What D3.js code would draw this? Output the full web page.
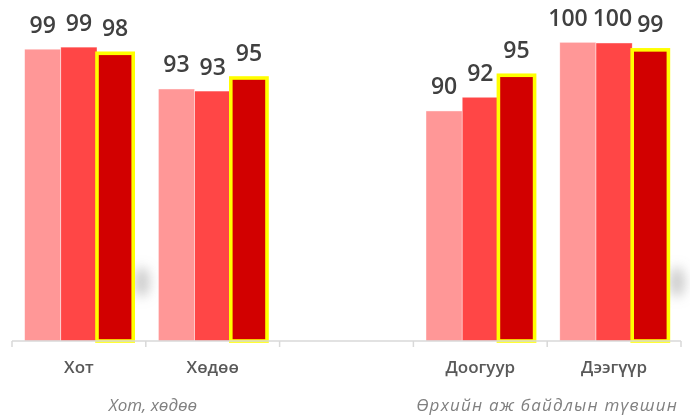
<!DOCTYPE html>
<html>
<head>
<meta charset="utf-8">
<script src="https://cdn.jsdelivr.net/npm/d3@7/dist/d3.min.js"></script>
<style>
  html, body { margin: 0; padding: 0; background: #fff; }
  svg { display: block; }
</style>
</head>
<body>
<svg id="chart" width="690" height="416"></svg>
<script>
// ---- Data ----
const categories = ["Хот", "Хөдөө", "", "Доогуур", "Дээгүүр"];
const seriesNames = ["s1", "s2", "s3"];
const series1 = [99.0, 93.2, null, 90.0, 100.0];
const series2 = [99.3, 92.9, null, 92.0, 99.9];
const series3 = [98.4, 94.8, null, 95.2, 98.9];
const groupTitles = ["Хот, хөдөө", "Өрхийн аж байдлын түвшин"];

const colors = ["#ff9797", "#ff4646", "#d20000"];
const allSeries = [series1, series2, series3];
const FONT = "'Open Sans', 'DejaVu Sans', sans-serif";

const svg = d3.select("#chart");
const W = 690, H = 416;
svg.append("rect").attr("width", W).attr("height", H).attr("fill", "#fff");

const x0 = d3.scaleBand().domain(categories).range([12, 681]).paddingInner(0).paddingOuter(0);
const groupW = 108.6;
const x1 = d3.scaleBand().domain(seriesNames).range([0, groupW]).padding(0);
const y = d3.scaleLinear().domain([56.5, 100]).range([341, 42.3]);

// soft shadows
const defs = svg.append("defs");
const f = defs.append("filter").attr("id", "blur").attr("x", "-100%").attr("y", "-100%").attr("width", "300%").attr("height", "300%");
f.append("feGaussianBlur").attr("stdDeviation", 6);
const shadowG = svg.append("g").attr("filter", "url(#blur)");
[[x0("Хөдөө") - 4, 282], [x0("Дээгүүр") + x0.bandwidth() - 4, 282]].forEach(p => {
  shadowG.append("ellipse").attr("cx", p[0]).attr("cy", p[1]).attr("rx", 8).attr("ry", 15)
    .attr("fill", "#9a9a9a").attr("opacity", 0.5);
});

// bars
const off = (x0.bandwidth() - groupW) / 2;
const barsG = svg.append("g");
categories.forEach((c, ci) => {
  allSeries.forEach((s, si) => {
    const v = s[ci];
    if (v == null) return;
    const bx = x0(c) + off + x1(seriesNames[si]);
    const r = barsG.append("rect")
      .attr("x", bx).attr("y", y(v))
      .attr("width", x1.bandwidth()).attr("height", y(56.5) - y(v))
      .attr("fill", colors[si]);
    if (si === 2) {
      r.attr("stroke", "#ffff00").attr("stroke-width", 3.6);
    } else {
      r.attr("stroke", "#ffffff").attr("stroke-width", 0.6).attr("stroke-opacity", 0.7);
    }
  });
});

// axis
const axisG = svg.append("g").attr("transform", "translate(0,341)");
const tickXs = categories.map(c => x0(c)).concat([x0.range()[1]]);
axisG.append("line").attr("x1", 12).attr("x2", 681).attr("stroke", "#d9d9d9").attr("stroke-width", 1.5);
axisG.selectAll("line.tick").data(tickXs).enter().append("line")
  .attr("class", "tick").attr("x1", d => d).attr("x2", d => d)
  .attr("y1", 0).attr("y2", 6).attr("stroke", "#d9d9d9").attr("stroke-width", 1.5);

// category labels
svg.append("g").selectAll("text").data(categories).enter().append("text")
  .attr("x", d => x0(d) + x0.bandwidth() / 2)
  .attr("y", 373)
  .attr("text-anchor", "middle")
  .attr("font-family", FONT)
  .attr("font-weight", 600)
  .attr("font-size", 17)
  .attr("fill", "#595959")
  .text(d => d);

// group titles
svg.append("text").attr("x", 153).attr("y", 411).attr("text-anchor", "middle")
  .attr("font-family", FONT).attr("font-style", "italic")
  .attr("font-size", 17).attr("fill", "#808080").text(groupTitles[0]);
svg.append("text").attr("x", (x0("Доогуур") + x0("Дээгүүр") + x0.bandwidth()) / 2).attr("y", 411).attr("text-anchor", "middle")
  .attr("font-family", FONT).attr("font-style", "italic").attr("letter-spacing", 1.2)
  .attr("font-size", 17).attr("fill", "#808080").text(groupTitles[1]);

// value labels
const fmt = d3.format(".0f");
const labG = svg.append("g");
categories.forEach((c, ci) => {
  const labs = [];
  allSeries.forEach((s, si) => {
    const v = s[ci];
    if (v == null) return;
    const bx = x0(c) + off + x1(seriesNames[si]) + x1.bandwidth() / 2;
    const t = labG.append("text")
      .attr("x", bx).attr("y", y(v) - (si === 2 ? 17.5 : 16.5))
      .attr("text-anchor", "middle")
      .attr("font-family", FONT)
      .attr("font-size", 23)
      .attr("font-weight", 600)
      .attr("fill", "#404040")
      .text(fmt(v));
    labs.push({ t, x: bx, w: t.node().getComputedTextLength() });
  });
  // simple overlap avoidance: push labels leftwards
  for (let i = labs.length - 2; i >= 0; i--) {
    const a = labs[i], b = labs[i + 1];
    const gap = (b.x - b.w / 2) - (a.x + a.w / 2);
    if (gap < 5) { a.x -= (5 - gap); a.t.attr("x", a.x); }
  }
});
</script>
</body>
</html>
